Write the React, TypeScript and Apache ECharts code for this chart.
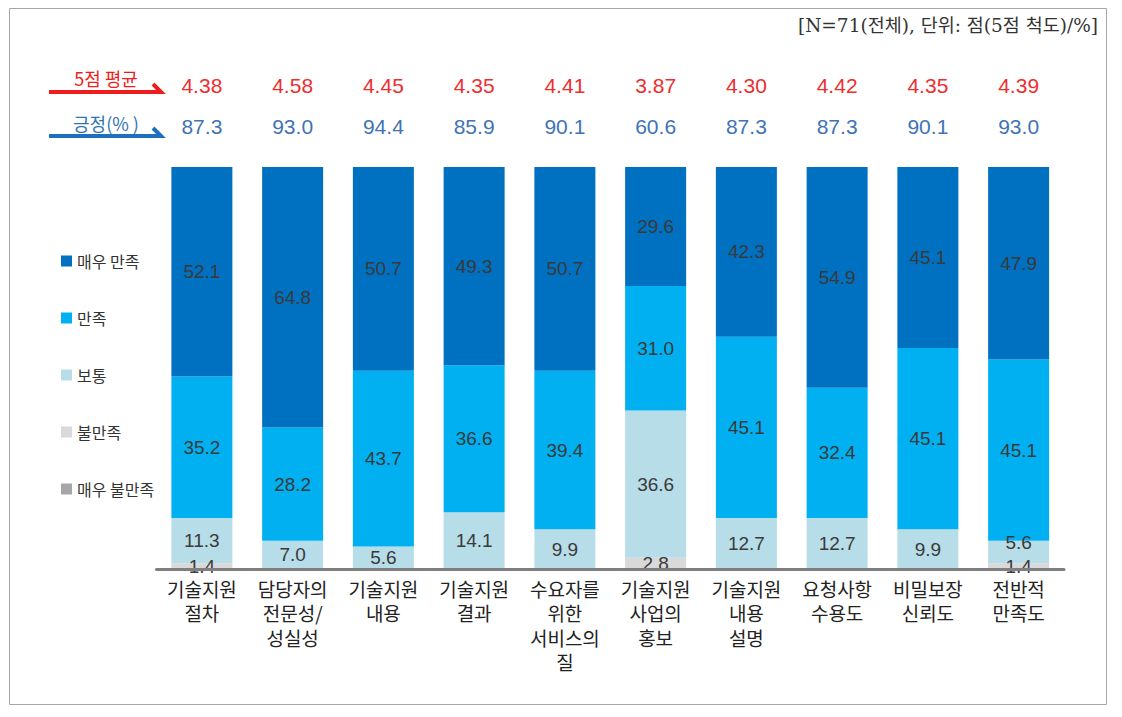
import React, { useEffect, useRef } from "react";
import * as echarts from "echarts";

const categories = [
  "기술지원\n절차",
  "담당자의\n전문성/\n성실성",
  "기술지원\n내용",
  "기술지원\n결과",
  "수요자를\n위한\n서비스의\n질",
  "기술지원\n사업의\n홍보",
  "기술지원\n내용\n설명",
  "요청사항\n수용도",
  "비밀보장\n신뢰도",
  "전반적\n만족도",
];
const veryGood = [52.1, 64.8, 50.7, 49.3, 50.7, 29.6, 42.3, 54.9, 45.1, 47.9];
const good = [35.2, 28.2, 43.7, 36.6, 39.4, 31.0, 45.1, 32.4, 45.1, 45.1];
const normal = [11.3, 7.0, 5.6, 14.1, 9.9, 36.6, 12.7, 12.7, 9.9, 5.6];
const bad = [1.4, 0, 0, 0, 0, 2.8, 0, 0, 0, 1.4];
const veryBad = [0, 0, 0, 0, 0, 0, 0, 0, 0, 0];
const avgScores = ["4.38", "4.58", "4.45", "4.35", "4.41", "3.87", "4.30", "4.42", "4.35", "4.39"];
const positivePct = ["87.3", "93.0", "94.4", "85.9", "90.1", "60.6", "87.3", "87.3", "90.1", "93.0"];
const seriesNames = ["매우 불만족", "불만족", "보통", "만족", "매우 만족"];
const legendOrder = ["매우 만족", "만족", "보통", "불만족", "매우 불만족"];
const seriesColors = ["#A6A6A6", "#D9D9D9", "#B7DDE8", "#00B0F0", "#0070C0"];
const headerText = "[N=71(전체), 단위: 점(5점 척도)/%]";

const SANS = "'Liberation Sans', Arial, 'Noto Sans CJK KR', sans-serif";
const KR = "'Noto Sans CJK KR', 'Liberation Sans', sans-serif";

export default function App() {
  const ref = useRef<HTMLDivElement>(null);
  useEffect(() => {
    if (!ref.current) return;
    const chart = echarts.init(ref.current, undefined, { renderer: "svg" });
    // lift the 보통 label when it sits on a thin segment right above a 불만족 label
    const normalData = normal.map((v, j) =>
      bad[j] && v < 8 ? { value: v, label: { offset: [0, -10] } } : v
    );
    const dataSets: any[] = [veryBad, bad, normalData, good, veryGood];
    const option: any = {
      animation: false,
      backgroundColor: "#ffffff",
      legend: {
        data: legendOrder,
        orient: "vertical",
        left: 56,
        top: 248,
        itemWidth: 11,
        itemHeight: 11,
        itemGap: 41,
        icon: "rect",
        textStyle: { fontSize: 16, color: "#333", fontFamily: KR },
        selectedMode: false,
      },
      grid: { left: 156.5, right: 58, top: 167, bottom: 148, containLabel: false },
      xAxis: [
        {
          type: "category",
          data: categories,
          axisLine: { lineStyle: { color: "#7F7F7F", width: 3 } },
          axisTick: { show: false },
          axisLabel: {
            fontSize: 19,
            lineHeight: 24.5,
            color: "#222",
            fontFamily: KR,
            margin: 7,
            interval: 0,
          },
          z: 5,
        },
        {
          type: "category",
          data: avgScores,
          position: "top",
          offset: 71,
          axisLine: { show: false },
          axisTick: { show: false },
          axisLabel: { fontSize: 21, color: "#EE2E2E", fontFamily: SANS, margin: 0, interval: 0 },
        },
        {
          type: "category",
          data: positivePct,
          position: "top",
          offset: 30,
          axisLine: { show: false },
          axisTick: { show: false },
          axisLabel: { fontSize: 21, color: "#3F73B5", fontFamily: SANS, margin: 0, interval: 0 },
        },
      ],
      yAxis: {
        type: "value",
        min: 0,
        max: 100,
        show: false,
      },
      series: seriesNames.map((name, i) => ({
        name,
        type: "bar",
        stack: "total",
        barWidth: 61,
        data: dataSets[i],
        itemStyle: { color: seriesColors[i] },
        label: {
          show: true,
          position: "inside",
          fontSize: 19,
          color: "#3A3A3A",
          fontFamily: SANS,
          formatter: (p: any) => (p.value ? Number(p.value).toFixed(1) : ""),
        },
        z: 2,
      })),
      graphic: [
        {
          type: "rect",
          shape: { x: 9.5, y: 8.5, width: 1097, height: 696 },
          style: { fill: "none", stroke: "#A6A6A6", lineWidth: 1 },
          silent: true,
        },
        {
          type: "text",
          right: 24,
          top: 16,
          style: {
            text: headerText,
            fontSize: 18.5,
            fill: "#333",
            fontFamily: "'DejaVu Serif', 'Liberation Serif', 'Noto Sans CJK KR', serif",
          },
        },
        {
          type: "text",
          x: 106,
          y: 78,
          style: {
            text: "5점 평균",
            fontSize: 18,
            fill: "#EE1C1C",
            fontFamily: KR,
            align: "center",
            verticalAlign: "middle",
          },
        },
        {
          type: "polyline",
          shape: { points: [[49, 92], [161, 92], [153, 84]] },
          style: { stroke: "#EE1C1C", lineWidth: 4, fill: "none" },
        },
        {
          type: "text",
          x: 106,
          y: 123,
          style: {
            text: "긍정(% )",
            fontSize: 18,
            fill: "#2E75B6",
            fontFamily: KR,
            align: "center",
            verticalAlign: "middle",
          },
        },
        {
          type: "polyline",
          shape: { points: [[49, 136], [161, 136], [153, 128]] },
          style: { stroke: "#1F6FC0", lineWidth: 4, fill: "none" },
        },
      ],
    };
    chart.setOption(option);
    return () => chart.dispose();
  }, []);
  return (
    <div
      ref={ref}
      style={{ position: "fixed", left: 0, top: 0, width: 1122, height: 717, background: "#fff" }}
    />
  );
}
